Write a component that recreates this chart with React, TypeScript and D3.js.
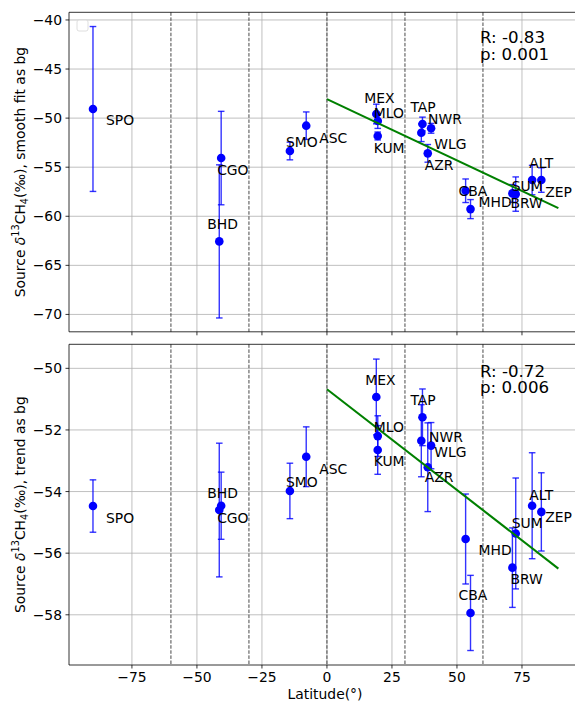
import React from "react";
import * as d3 from "d3";

// stations and latitudes
const stations = ["SPO", "CGO", "BHD", "SMO", "ASC", "MEX", "MLO", "KUM", "TAP", "WLG", "AZR", "NWR", "MHD", "CBA", "BRW", "SUM", "ZEP", "ALT"];
const lat = [-89.98, -40.68, -41.41, -14.25, -7.97, 18.98, 19.54, 19.52, 36.73, 36.29, 38.77, 40.05, 53.33, 55.21, 71.32, 72.6, 78.91, 82.45];

// smooth fit as background
const smoothVal = [-49.07, -54.07, -62.56, -53.35, -50.77, -49.58, -50.3, -51.82, -50.6, -51.49, -53.59, -51.04, -57.4, -59.27, -57.67, -57.74, -56.31, -56.31];
const smoothErr = [8.4, 4.76, 7.8, 0.9, 1.4, 1.0, 0.75, 0.4, 0.7, 0.9, 0.9, 0.5, 1.2, 0.97, 0.9, 1.75, 1.5, 1.25];
const smoothFitX = [0, 89];
const smoothFitY = [-48.07, -59.17];

// trend as background
const trendVal = [-54.47, -54.46, -54.6, -53.98, -52.87, -50.93, -52.2, -52.65, -51.59, -52.35, -53.21, -52.51, -55.54, -57.94, -56.47, -55.36, -54.46, -54.66];
const trendErr = [0.85, 1.09, 2.17, 0.9, 0.97, 1.23, 0.66, 0.79, 0.92, 1.17, 1.44, 0.75, 1.46, 1.22, 1.29, 1.8, 1.72, 1.27];
const trendFitX = [0, 89];
const trendFitY = [-50.68, -56.5];

const xTicks = [-75, -50, -25, 0, 25, 50, 75];
const zoneLines = [-60, -30, 0, 30, 60];
const smoothTicks = [-40, -45, -50, -55, -60, -65, -70];
const trendTicks = [-50, -52, -54, -56, -58];

// label offsets in px (left, baseline) relative to the point
const smoothLabelOff: [number, number][] = [[13, 16], [-4, 17], [-12, -12], [-4, -4], [13, 17], [-12, -11], [-4, -3], [-4, 17], [-12, -12], [13, 16], [-3, 17], [-3, -4], [13, 16], [-12, -13], [-2, 15], [-4, -3], [13, 17], [-12, -12]];
const trendLabelOff: [number, number][] = [[13, 17], [-4, 17], [-12, -12], [-4, -4], [13, 17], [-11, -12], [-4, -4], [-4, 16], [-12, -12], [13, 16], [-3, 15], [-2, -4], [13, 16], [-12, -13], [-2, 16], [-4, -5], [13, 16], [-12, -12]];

const W = 575, H = 702;
const left = 69, right = 581;
const FONT = "DejaVu Sans, sans-serif";

const x = d3.scaleLinear().domain([-99.2, 97.7]).range([left, right]);

function Panel(props: any) {
  const { top, bottom, domain, ticks, vals, errs, fitX, fitY, offs, stat, ylabel, showX } = props;
  const y = d3.scaleLinear().domain(domain).range([bottom, top]);
  const line = d3.line<number>().x((d, i) => x(fitX[i])).y((d) => y(d));
  const cap = 3.3;
  return (
    <g>
      {/* grid */}
      {xTicks.map((t) => (
        <line key={"gx" + t} x1={x(t)} x2={x(t)} y1={top} y2={bottom} stroke="#b0b0b0" strokeWidth={0.8} />
      ))}
      {ticks.map((t: number) => (
        <line key={"gy" + t} x1={left} x2={right} y1={y(t)} y2={y(t)} stroke="#b0b0b0" strokeWidth={0.8} />
      ))}
      {zoneLines.map((t) => (
        <line key={"z" + t} x1={x(t)} x2={x(t)} y1={top} y2={bottom} stroke="#333" strokeWidth={0.9} strokeDasharray="3.5,1.6" />
      ))}
      {/* error bars */}
      {vals.map((v: number, i: number) => {
        const cx = x(lat[i]);
        const y1 = y(v + errs[i]);
        const y2 = y(v - errs[i]);
        return (
          <g key={"e" + i} stroke="blue" strokeWidth={1.4} strokeOpacity={0.8}>
            <line x1={cx} x2={cx} y1={y1} y2={y2} />
            <line x1={cx - cap} x2={cx + cap} y1={y1} y2={y1} />
            <line x1={cx - cap} x2={cx + cap} y1={y2} y2={y2} />
          </g>
        );
      })}
      {vals.map((v: number, i: number) => (
        <circle key={"p" + i} cx={x(lat[i])} cy={y(v)} r={4.3} fill="blue" />
      ))}
      <path d={line(fitY) || ""} fill="none" stroke="green" strokeWidth={2.1} />
      {vals.map((v: number, i: number) => (
        <text key={"l" + i} x={x(lat[i]) + offs[i][0]} y={y(v) + offs[i][1]} fontSize={13.9} fontFamily={FONT} fill="black">
          {stations[i]}
        </text>
      ))}
      <text x={480} y={top + stat.dy} fontSize={16.67} fontFamily={FONT} fill="black">
        <tspan x={480}>{stat.r}</tspan>
        <tspan x={480} dy={16.5}>{stat.p}</tspan>
      </text>
      {/* spines */}
      <line x1={left} x2={left} y1={top} y2={bottom} stroke="black" strokeWidth={0.8} />
      <line x1={left} x2={right} y1={top} y2={top} stroke="black" strokeWidth={0.8} />
      <line x1={left} x2={right} y1={bottom} y2={bottom} stroke="black" strokeWidth={0.8} />
      <line x1={right} x2={right} y1={top} y2={bottom} stroke="black" strokeWidth={0.8} />
      {/* ticks */}
      {ticks.map((t: number) => (
        <g key={"ty" + t}>
          <line x1={left - 3.5} x2={left} y1={y(t)} y2={y(t)} stroke="black" strokeWidth={0.8} />
          <text x={left - 7} y={y(t) + 5} textAnchor="end" fontSize={13.9} fontFamily={FONT}>
            {"\u2212" + Math.abs(t)}
          </text>
        </g>
      ))}
      {xTicks.map((t) => (
        <g key={"tx" + t}>
          <line x1={x(t)} x2={x(t)} y1={bottom} y2={bottom + 3.5} stroke="black" strokeWidth={0.8} />
          {showX && (
            <text x={x(t)} y={bottom + 16.7} textAnchor="middle" fontSize={13.9} fontFamily={FONT}>
              {t < 0 ? "\u2212" + Math.abs(t) : String(t)}
            </text>
          )}
        </g>
      ))}
      <text transform={`translate(24.5, ${(top + bottom) / 2}) rotate(-90)`} textAnchor="middle" fontSize={13.9} fontFamily={FONT}>
        Source <tspan fontStyle="italic">δ</tspan>
        <tspan fontSize={9.7} dy={-5.5}>13</tspan>
        <tspan dy={5.5}>CH</tspan>
        <tspan fontSize={9.7} dy={3}>4</tspan>
        <tspan dy={-3}>(‰), {ylabel}</tspan>
      </text>
    </g>
  );
}

export default function App() {
  return (
    <svg width={W} height={H} style={{ position: "absolute", left: 0, top: 0, background: "white" }}>
      <rect width={W} height={H} fill="white" />
      <Panel
        top={12.3}
        bottom={331.8}
        domain={[-71.77, -39.22]}
        ticks={smoothTicks}
        vals={smoothVal}
        errs={smoothErr}
        fitX={smoothFitX}
        fitY={smoothFitY}
        offs={smoothLabelOff}
        stat={{ r: "R: -0.83", p: "p: 0.001", dy: 31 }}
        ylabel="smooth fit as bg"
        showX={false}
      />
      {/* empty legend frame */}
      <rect x={77} y={20} width={11} height={11} rx={2} fill="white" fillOpacity={0.8} stroke="#d6d6d6" strokeWidth={0.8} />
      <Panel
        top={344.3}
        bottom={665}
        domain={[-59.63, -49.22]}
        ticks={trendTicks}
        vals={trendVal}
        errs={trendErr}
        fitX={trendFitX}
        fitY={trendFitY}
        offs={trendLabelOff}
        stat={{ r: "R: -0.72", p: "p: 0.006", dy: 32.4 }}
        ylabel="trend as bg"
        showX={true}
      />
      <text x={(left + right) / 2} y={699} textAnchor="middle" fontSize={13.9} fontFamily={FONT}>
        Latitude(°)
      </text>
    </svg>
  );
}
